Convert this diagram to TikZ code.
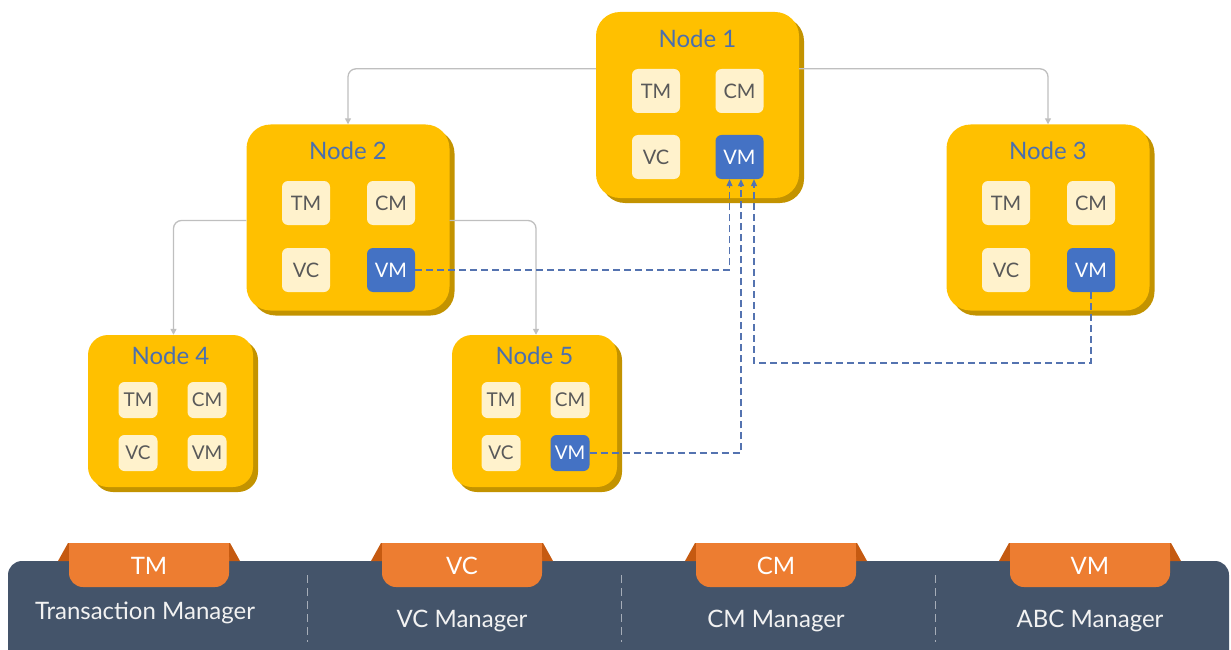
\documentclass[tikz,border=0pt]{standalone}
\usepackage{fontspec}
\setmainfont{Lato}
\usetikzlibrary{arrows.meta,calc,shadows}
\definecolor{gold}{HTML}{FFC000}
\definecolor{goldsh}{HTML}{C39300}
\definecolor{pale}{HTML}{FFF2CC}
\definecolor{cellgray}{HTML}{595959}
\definecolor{titleblue}{HTML}{4B6FAE}
\definecolor{vmblue}{HTML}{4472C4}
\definecolor{dblue}{HTML}{5473B0}
\definecolor{lgray}{HTML}{BFBFBF}
\definecolor{barc}{HTML}{44546A}
\definecolor{tabc}{HTML}{ED7D31}
\definecolor{flapc}{HTML}{C55A11}
\definecolor{sepc}{HTML}{A6ADB8}
\tikzset{
 bignode/.style={fill=gold, rounded corners=24pt, minimum width=203pt, minimum height=186pt, inner sep=0pt,
   general shadow={fill=goldsh, shadow xshift=5pt, shadow yshift=-5pt}},
 smallnode/.style={bignode, rounded corners=20pt, minimum width=165pt, minimum height=152pt},
 ntitle/.style={text=titleblue, font=\fontsize{24}{26}\selectfont, inner sep=0pt},
 cell/.style={fill=pale, text=cellgray, rounded corners=6pt, minimum width=48pt, minimum height=44pt, inner sep=0pt, font=\fontsize{20}{22}\selectfont},
 scell/.style={cell, minimum width=39pt, minimum height=36pt, font=\fontsize{19}{21}\selectfont},
 vm/.style={fill=vmblue, text=white},
 gline/.style={draw=lgray, line width=1.3pt, rounded corners=8pt, -{Triangle[width=6pt,length=6pt]}},
 bline/.style={draw=dblue, line width=1.3pt, dash pattern=on 7pt off 4pt, -{Triangle[width=6pt,length=7pt]}},
 tabtext/.style={text=white, font=\fontsize{24}{26}\selectfont, inner sep=0pt},
 mgrtext/.style={text=white!95!black, font=\fontsize{24}{26}\selectfont, inner sep=0pt},
 sepline/.style={draw=sepc, line width=1pt, dash pattern=on 8pt off 5pt},
}
\begin{document}
\begin{tikzpicture}[x=1pt,y=-1pt]
\useasboundingbox (0,0) rectangle (1231,650);
% big nodes
\node[bignode] (n1) at (697.5,105) {};
\node[bignode] (n2) at (348,217.5) {};
\node[bignode] (n3) at (1048,217.5) {};
\node[smallnode] (n4) at (170.5,411) {};
\node[smallnode] (n5) at (534.5,411) {};
% titles
\node[ntitle] (n1t) at (697.5,39) {Node 1};
\node[ntitle] (n2t) at (348,151) {Node 2};
\node[ntitle] (n3t) at (1048,151) {Node 3};
\node[ntitle] (n4t) at (170.5,356) {Node 4};
\node[ntitle] (n5t) at (534.5,356) {Node 5};
% cells node 1
\node[cell] (n1tm) at (656,91) {TM};
\node[cell] (n1cm) at (739.5,91) {CM};
\node[cell] (n1vc) at (656,157) {VC};
\node[cell,vm] (n1vm) at (739.5,157) {VM};
% node 2
\node[cell] (n2tm) at (306,203) {TM};
\node[cell] (n2cm) at (391,203) {CM};
\node[cell] (n2vc) at (306,270) {VC};
\node[cell,vm] (n2vm) at (391,270) {VM};
% node 3
\node[cell] (n3tm) at (1006,203) {TM};
\node[cell] (n3cm) at (1091,203) {CM};
\node[cell] (n3vc) at (1006,270) {VC};
\node[cell,vm] (n3vm) at (1091,270) {VM};
% node 4
\node[scell] (n4tm) at (138,400) {TM};
\node[scell] (n4cm) at (207,400) {CM};
\node[scell] (n4vc) at (138,453) {VC};
\node[scell] (n4vm) at (207,453) {VM};
% node 5
\node[scell] (n5tm) at (501,400) {TM};
\node[scell] (n5cm) at (570,400) {CM};
\node[scell] (n5vc) at (501,453) {VC};
\node[scell,vm] (n5vm) at (570,453) {VM};
% gray tree connectors
\draw[gline] (n1tm.north -| n1.west) -| (n2.north);
\draw[gline] (n1tm.north -| n1.east) -| (n3.north);
\draw[gline] ([yshift=-3pt]n2.west) -| ([xshift=3pt]n4.north);
\draw[gline] ([yshift=-3pt]n2.east) -| ([xshift=1.5pt]n5.north);
% blue dashed connectors
\coordinate (c3) at (1091,363);
\draw[bline] (n2vm.east) -| ([xshift=-10pt]n1vm.south);
\draw[bline] (n5vm.east) -| ([xshift=1.5pt]n1vm.south);
\draw[bline] (n3vm.south) -- (c3) -| ([xshift=14.5pt]n1vm.south);
% bottom bar
\fill[barc, rounded corners=14pt] (8,670) -- (8,561) -- (1229,561) -- (1229,670) -- cycle;
\foreach \cx/\tb/\nm in {149/TM/a, 462/VC/b, 776/CM/c, 1090/VM/d}{
  \fill[flapc] (\cx-91,561) -- (\cx-81,543) -- (\cx+81,543) -- (\cx+91,561) -- cycle;
  \fill[tabc, rounded corners=14pt] (\cx-80,543) rectangle (\cx+80,587);
  \fill[tabc] (\cx-80,543) rectangle (\cx+80,565);
  \node[tabtext] (tab\nm) at (\cx,566) {\tb};
}
\node[mgrtext] (ma) at (145,613) {Transaction Manager};
\node[mgrtext] (mb) at (462,621) {VC Manager};
\node[mgrtext] (mc) at (776,621) {CM Manager};
\node[mgrtext] (md) at (1090,621) {ABC Manager};
\draw[sepline] (307,575) -- (307,642);
\draw[sepline] (621,575) -- (621,642);
\draw[sepline] (935,575) -- (935,642);
\end{tikzpicture}
\end{document}
